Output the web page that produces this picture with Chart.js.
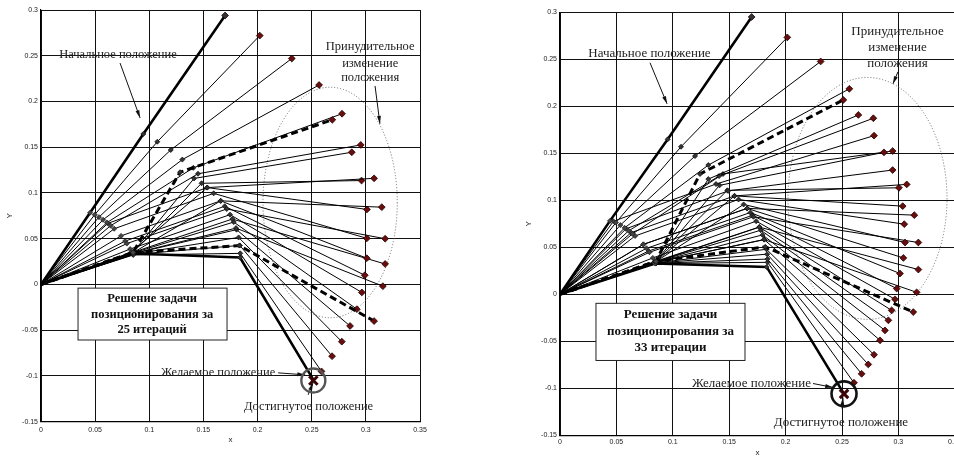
<!DOCTYPE html>
<html>
<head>
<meta charset="utf-8">
<script src="https://cdn.jsdelivr.net/npm/chart.js@4.4.1/dist/chart.umd.min.js"></script>
<style>
  html, body { margin: 0; padding: 0; background: #fff; overflow: hidden; width: 954px; height: 456px; }
  canvas { position: absolute; top: 0; }
  #left { left: 0; }
  #right { left: 500px; }
</style>
</head>
<body>
<canvas id="left" width="440" height="456"></canvas>
<canvas id="right" width="470" height="470"></canvas>
<script>
// axis ticks
const xTickValues = [0, 0.05, 0.1, 0.15, 0.2, 0.25, 0.3, 0.35];
const xTickLabels = ['0', '0.05', '0.1', '0.15', '0.2', '0.25', '0.3', '0.35'];
const yTickValues = [-0.15, -0.1, -0.05, 0, 0.05, 0.1, 0.15, 0.2, 0.25, 0.3];
const yTickLabels = ['-0.15', '-0.1', '-0.05', '0', '0.05', '0.1', '0.15', '0.2', '0.25', '0.3'];

// 25 iterations: joint 1, joint 2 and tool point of every configuration
const leftJoint1 = [
  [0.0453, 0.0784], [0.0496, 0.0763], [0.0535, 0.0736], [0.0573, 0.0707], [0.0609, 0.0676],
  [0.085, 0.035], [0.0643, 0.0643], [0.084, 0.034], [0.0618, 0.0668], [0.084, 0.034],
  [0.0739, 0.0531], [0.083, 0.035], [0.0676, 0.0609], [0.0793, 0.0447], [0.084, 0.034],
  [0.0841, 0.0348], [0.0777, 0.0474], [0.0845, 0.0337], [0.0823, 0.0387], [0.0843, 0.0342],
  [0.085, 0.035], [0.0846, 0.0335], [0.0848, 0.0331], [0.085, 0.0327], [0.0852, 0.0322],
  [0.0853, 0.0338]
];
const leftJoint2 = [
  [0.0945, 0.1645], [0.1074, 0.156], [0.1198, 0.147], [0.1305, 0.1365], [0.1407, 0.1275],
  [0.1284, 0.1227], [0.145, 0.121], [0.1414, 0.1159], [0.1535, 0.1059], [0.1483, 0.1106],
  [0.1659, 0.0914], [0.1535, 0.1059], [0.1595, 0.0996], [0.1715, 0.0825], [0.1659, 0.0914],
  [0.1767, 0.0715], [0.1697, 0.0855], [0.1801, 0.0616], [0.1746, 0.0763], [0.178, 0.0682],
  [0.1832, 0.0425], [0.1806, 0.0599], [0.1825, 0.0514], [0.1836, 0.0427], [0.184, 0.034],
  [0.1838, 0.0294]
];
const leftTool = [
  [0.170, 0.294], [0.202, 0.272], [0.2316, 0.247], [0.2568, 0.218], [0.278, 0.1866],
  [0.269, 0.180], [0.2953, 0.1525], [0.287, 0.1445], [0.3076, 0.116], [0.296, 0.1136],
  [0.3147, 0.0845], [0.301, 0.082], [0.3009, 0.0504], [0.3178, 0.050], [0.3009, 0.0287],
  [0.3178, 0.0224], [0.299, 0.0101], [0.3157, -0.0019], [0.2963, -0.0087], [0.2917, -0.027],
  [0.3076, -0.040], [0.2854, -0.0454], [0.2778, -0.0625], [0.2688, -0.0784], [0.259, -0.095],
  [0.2516, -0.1043]
];
const leftDashed = [5, 20];
const leftTarget = [0.2515, -0.105];

// 33 iterations
const rightJoint1 = [
  [0.0443, 0.0781], [0.0496, 0.0763], [0.0535, 0.0736], [0.0573, 0.0707], [0.085, 0.035],
  [0.084, 0.034], [0.0609, 0.0676], [0.0474, 0.0777], [0.084, 0.034], [0.0643, 0.0643],
  [0.0585, 0.0697], [0.0631, 0.0656], [0.084, 0.034], [0.084, 0.034], [0.0739, 0.0531],
  [0.0666, 0.0621], [0.084, 0.034], [0.0793, 0.0447], [0.0739, 0.0531], [0.0841, 0.0348],
  [0.0767, 0.0489], [0.0785, 0.046], [0.0845, 0.0337], [0.0823, 0.0387], [0.0842, 0.0342],
  [0.085, 0.035], [0.0843, 0.0342], [0.0844, 0.034], [0.0845, 0.0337], [0.0847, 0.0333],
  [0.0848, 0.0331], [0.0849, 0.0329], [0.0851, 0.0328], [0.0842, 0.0327]
];
const rightJoint2 = [
  [0.0955, 0.1649], [0.1073, 0.157], [0.1197, 0.1471], [0.1315, 0.1375], [0.1241, 0.128],
  [0.1315, 0.1226], [0.141, 0.1258], [0.1383, 0.1173], [0.1414, 0.1159], [0.1445, 0.128],
  [0.149, 0.110], [0.1547, 0.1047], [0.1483, 0.1106], [0.1547, 0.1047], [0.1659, 0.0914],
  [0.1583, 0.1009], [0.1628, 0.0956], [0.1715, 0.0825], [0.1659, 0.0914], [0.1767, 0.0715],
  [0.1688, 0.087], [0.1706, 0.084], [0.181, 0.0582], [0.1739, 0.0778], [0.1767, 0.0715],
  [0.182, 0.0505], [0.178, 0.0682], [0.1796, 0.0632], [0.181, 0.0582], [0.183, 0.0479],
  [0.1836, 0.0427], [0.1839, 0.0375], [0.184, 0.034], [0.1832, 0.0291]
];
const rightTool = [
  [0.1699, 0.295], [0.2015, 0.2733], [0.2311, 0.2477], [0.2565, 0.2186], [0.2512, 0.2068],
  [0.2645, 0.1908], [0.2778, 0.1873], [0.2784, 0.1688], [0.2872, 0.151], [0.2949, 0.1524],
  [0.2949, 0.1322], [0.3074, 0.1169], [0.3005, 0.1133], [0.3038, 0.0938], [0.3141, 0.0842],
  [0.3052, 0.0746], [0.3059, 0.0551], [0.3177, 0.0551], [0.3044, 0.0387], [0.3177, 0.0263],
  [0.3014, 0.0221], [0.2985, 0.0061], [0.3162, 0.0021], [0.297, -0.0053], [0.294, -0.0171],
  [0.3132, -0.0189], [0.2911, -0.0277], [0.2881, -0.0384], [0.2837, -0.049], [0.2784, -0.0643],
  [0.2733, -0.0746], [0.2674, -0.0846], [0.2606, -0.0941], [0.2518, -0.1059]
];
const rightDashed = [4, 25];
const rightTarget = [0.2518, -0.1059];

// captions and where they sit (data units)
const leftNotes = {
  font: 12.5,
  ellipse: { cx: 0.267, cy: 0.0896, rx: 0.062, ry: 0.126 },
  texts: [
    ['Начальное положение', 0.0711, 0.251],
    ['Принудительное', 0.304, 0.260],
    ['изменение', 0.304, 0.2418],
    ['положения', 0.304, 0.2255],
    ['Желаемое положение', 0.1635, -0.0966],
    ['Достигнутое положение', 0.2471, -0.1337]
  ],
  arrows: [
    [0.073, 0.242, 0.0915, 0.182],
    [0.3085, 0.217, 0.313, 0.1757],
    [0.219, -0.0966, 0.2439, -0.0988],
    [0.2467, -0.1206, 0.2513, -0.1075]
  ],
  box: { x1: 0.0342, y1: -0.004, x2: 0.1718, y2: -0.0607, cx: 0.1026,
         lines: ['Решение задачи', 'позиционирования за', '25 итераций'], ys: [-0.016, -0.0334, -0.0498] },
  ring: { r: 12, color: '#555', width: 2.4 }
};
const rightNotes = {
  font: 13,
  ellipse: { cx: 0.2726, cy: 0.102, rx: 0.0705, ry: 0.1287 },
  texts: [
    ['Начальное положение', 0.0793, 0.2559],
    ['Принудительное', 0.2992, 0.2793],
    ['изменение', 0.2992, 0.2623],
    ['положения', 0.2992, 0.2452],
    ['Желаемое положение', 0.1698, -0.0949],
    ['Достигнутое положение', 0.2491, -0.1361]
  ],
  arrows: [
    [0.0798, 0.2463, 0.0949, 0.2026],
    [0.2996, 0.2367, 0.2952, 0.2239],
    [0.2243, -0.0949, 0.242, -0.0991],
    [0.25, -0.1215, 0.2509, -0.1098]
  ],
  box: { x1: 0.0319, y1: -0.0096, x2: 0.164, y2: -0.0704, cx: 0.098,
         lines: ['Решение задачи', 'позиционирования за', '33 итерации'], ys: [-0.0216, -0.0402, -0.0572] },
  ring: { r: 12.5, color: '#111', width: 2.6 }
};

function armDatasets(j1, j2, tool, dashed) {
  const last = tool.length - 1;
  return tool.map((e, i) => {
    const thick = i === 0 || i === last;
    const dash = dashed.includes(i);
    return {
      data: [{ x: 0, y: 0 }, { x: j1[i][0], y: j1[i][1] }, { x: j2[i][0], y: j2[i][1] }, { x: e[0], y: e[1] }],
      borderColor: '#000',
      borderWidth: thick ? 2.6 : dash ? 3 : 1,
      borderDash: dash ? [7, 4] : [],
      pointStyle: 'rectRot',
      pointRadius: [0, 2.5, 2.5, i === last ? 0 : 3.4],
      pointBackgroundColor: ['#000', '#444', '#333', i === 0 ? '#333' : '#6a0d0d'],
      pointBorderColor: ['#000', '#222', '#111', '#200'],
      pointBorderWidth: 0.8,
      order: thick || dash ? 1 : 2,
      tension: 0
    };
  });
}

function arrow(ctx, x1, y1, x2, y2) {
  const a = Math.atan2(y2 - y1, x2 - x1);
  ctx.beginPath();
  ctx.moveTo(x1, y1);
  ctx.lineTo(x2, y2);
  ctx.stroke();
  ctx.beginPath();
  ctx.moveTo(x2, y2);
  ctx.lineTo(x2 - 8 * Math.cos(a - 0.25), y2 - 8 * Math.sin(a - 0.25));
  ctx.lineTo(x2 - 8 * Math.cos(a + 0.25), y2 - 8 * Math.sin(a + 0.25));
  ctx.closePath();
  ctx.fill();
}

const notesPlugin = {
  id: 'notes',
  beforeDatasetsDraw(chart, args, opts) {
    const n = opts.notes, sx = chart.scales.x, sy = chart.scales.y, ctx = chart.ctx;
    const e = n.ellipse;
    const cx = sx.getPixelForValue(e.cx), cy = sy.getPixelForValue(e.cy);
    const rx = sx.getPixelForValue(e.cx + e.rx) - cx, ry = cy - sy.getPixelForValue(e.cy + e.ry);
    ctx.save();
    ctx.strokeStyle = '#666';
    ctx.lineWidth = 1;
    ctx.setLineDash([1, 2]);
    ctx.beginPath();
    ctx.ellipse(cx, cy, rx, ry, 0, 0, Math.PI * 2);
    ctx.stroke();
    ctx.restore();
  },
  afterDatasetsDraw(chart, args, opts) {
    const n = opts.notes, sx = chart.scales.x, sy = chart.scales.y, ctx = chart.ctx;
    const px = v => sx.getPixelForValue(v), py = v => sy.getPixelForValue(v);
    ctx.save();
    // result box
    const b = n.box;
    ctx.fillStyle = '#fff';
    ctx.fillRect(px(b.x1), py(b.y1), px(b.x2) - px(b.x1), py(b.y2) - py(b.y1));
    ctx.strokeStyle = '#222';
    ctx.lineWidth = 1;
    ctx.strokeRect(px(b.x1), py(b.y1), px(b.x2) - px(b.x1), py(b.y2) - py(b.y1));
    ctx.fillStyle = '#111';
    ctx.textAlign = 'center';
    ctx.textBaseline = 'middle';
    ctx.font = 'bold ' + n.font + 'px "Liberation Serif", serif';
    b.lines.forEach((t, i) => ctx.fillText(t, px(b.cx), py(b.ys[i])));
    // captions
    ctx.font = n.font + 'px "Liberation Serif", serif';
    ctx.fillStyle = '#222';
    n.texts.forEach(([t, x, y]) => ctx.fillText(t, px(x), py(y)));
    ctx.strokeStyle = '#111';
    ctx.fillStyle = '#111';
    ctx.lineWidth = 1;
    n.arrows.forEach(([x1, y1, x2, y2]) => arrow(ctx, px(x1), py(y1), px(x2), py(y2)));
    // ring round the goal
    const g = opts.target;
    ctx.strokeStyle = n.ring.color;
    ctx.lineWidth = n.ring.width;
    ctx.beginPath();
    ctx.arc(px(g[0]), py(g[1]), n.ring.r, 0, Math.PI * 2);
    ctx.stroke();
    ctx.restore();
  }
};

function makeChart(id, j1, j2, tool, dashed, target, notes, box) {
  const datasets = armDatasets(j1, j2, tool, dashed);
  datasets.push({
    data: [{ x: target[0], y: target[1] }],
    showLine: false,
    pointStyle: 'crossRot',
    pointRadius: 6,
    pointBorderWidth: 3,
    pointBorderColor: '#3a0505',
    order: 0
  });
  const tickFont = { family: '"Liberation Sans", Arial, sans-serif', size: 7 };
  return new Chart(document.getElementById(id), {
    type: 'line',
    data: { datasets },
    plugins: [notesPlugin],
    options: {
      responsive: false,
      animation: false,
      layout: { padding: box.padding },
      plugins: { legend: { display: false }, tooltip: { enabled: false }, notes: { notes, target } },
      scales: {
        x: {
          type: 'linear', min: 0, max: 0.35,
          afterBuildTicks: s => { s.ticks = xTickValues.map(v => ({ value: v })); },
          afterFit: s => { s.height = box.xHeight; },
          ticks: { callback: (v, i) => xTickLabels[i], font: tickFont, color: '#222', padding: box.xPad, maxRotation: 0, autoSkip: false },
          grid: { color: '#111', lineWidth: 1, drawTicks: false },
          border: { color: '#000', width: 1.2 },
          title: { display: true, text: 'x', font: { family: '"Liberation Sans", Arial, sans-serif', size: 8 }, color: '#222', padding: 0 }
        },
        y: {
          type: 'linear', min: -0.15, max: 0.3,
          afterBuildTicks: s => { s.ticks = yTickValues.map(v => ({ value: v })); },
          afterFit: s => { s.width = box.yWidth; },
          ticks: { callback: (v, i) => yTickLabels[i], font: tickFont, color: '#222', padding: 3, autoSkip: false },
          grid: { color: '#111', lineWidth: 1, drawTicks: false },
          border: { color: '#000', width: 1.2 },
          title: { display: true, text: 'Y', font: { family: '"Liberation Sans", Arial, sans-serif', size: 8 }, color: '#222', padding: { top: box.yTitlePad, bottom: 0 } }
        }
      }
    }
  });
}

makeChart('left', leftJoint1, leftJoint2, leftTool, leftDashed, leftTarget, leftNotes,
  { padding: { left: 0, top: 10, right: 20, bottom: 11.2 }, xHeight: 23.1, yWidth: 41, xPad: 4, yTitlePad: 5.2 });
makeChart('right', rightJoint1, rightJoint2, rightTool, rightDashed, rightTarget, rightNotes,
  { padding: { left: 0, top: 12.3, right: 15.2, bottom: 12.5 }, xHeight: 22.2, yWidth: 60, xPad: 3, yTitlePad: 24.2 });
</script>
</body>
</html>
